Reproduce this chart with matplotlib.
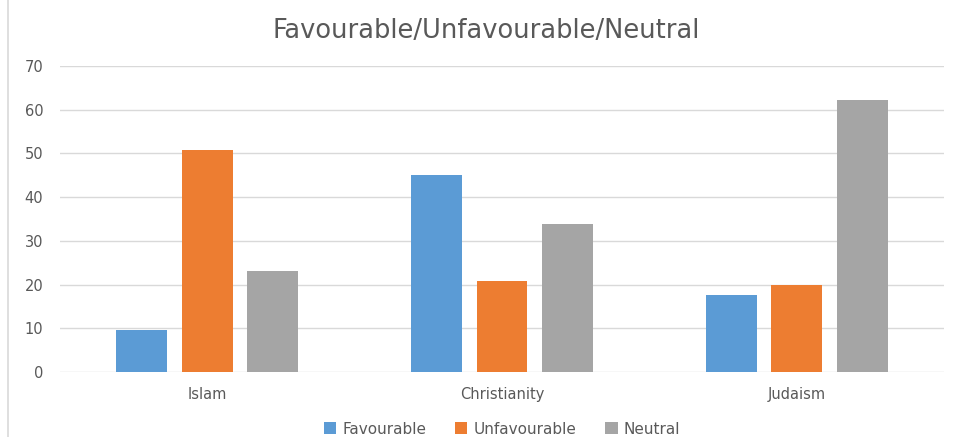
import numpy as np
import matplotlib.pyplot as plt
from matplotlib.lines import Line2D

categories = ['Islam', 'Christianity', 'Judaism']
series = ['Favourable', 'Unfavourable', 'Neutral']
favourable = [9.7, 45.0, 17.7]
unfavourable = [50.8, 20.9, 19.8]
neutral = [23.0, 33.9, 62.2]
y_ticks = [0, 10, 20, 30, 40, 50, 60, 70]

colors = ['#5B9BD5', '#ED7D31', '#A5A5A5']
text_grey = '#595959'
grid_grey = '#D9D9D9'

plt.rcParams['font.family'] = ['DejaVu Sans']

fig = plt.figure(figsize=(9.54, 4.37), dpi=100)
ax = fig.add_axes([60 / 954, 1 - 372 / 437, 884 / 954, 306 / 437])

x = np.arange(len(categories))
width = 0.173
step = 0.222
for i, (vals, name) in enumerate(zip([favourable, unfavourable, neutral], series)):
    ax.bar(x + (i - 1) * step, vals, width, color=colors[i], label=name, zorder=3)

ax.set_xlim(-0.5, 2.5)
ax.set_ylim(0, 70)
ax.set_yticks(y_ticks)
ax.set_xticks(x)
ax.set_xticklabels(categories)
ax.grid(axis='y', color=grid_grey, linewidth=1, zorder=0)
for s in ax.spines.values():
    s.set_visible(False)
ax.tick_params(length=0, colors=text_grey, labelsize=10.5)
ax.tick_params(axis='y', pad=12)
ax.tick_params(axis='x', pad=11)

fig.text(486 / 954, 1 - 31 / 437, 'Favourable/Unfavourable/Neutral', ha='center', va='center',
         fontsize=18.5, color=text_grey)

ax.legend(loc='center', bbox_to_anchor=(0.5, -(429 - 372) / 306),
          ncol=3, frameon=False, fontsize=11, labelcolor=text_grey,
          handlelength=0.8, handleheight=0.8, handletextpad=0.4, columnspacing=1.9)

# thin chart border on the left
fig.add_artist(Line2D([8 / 954, 8 / 954], [0, 1], color=grid_grey, linewidth=1.2))

fig.savefig('out.png', dpi=100)
